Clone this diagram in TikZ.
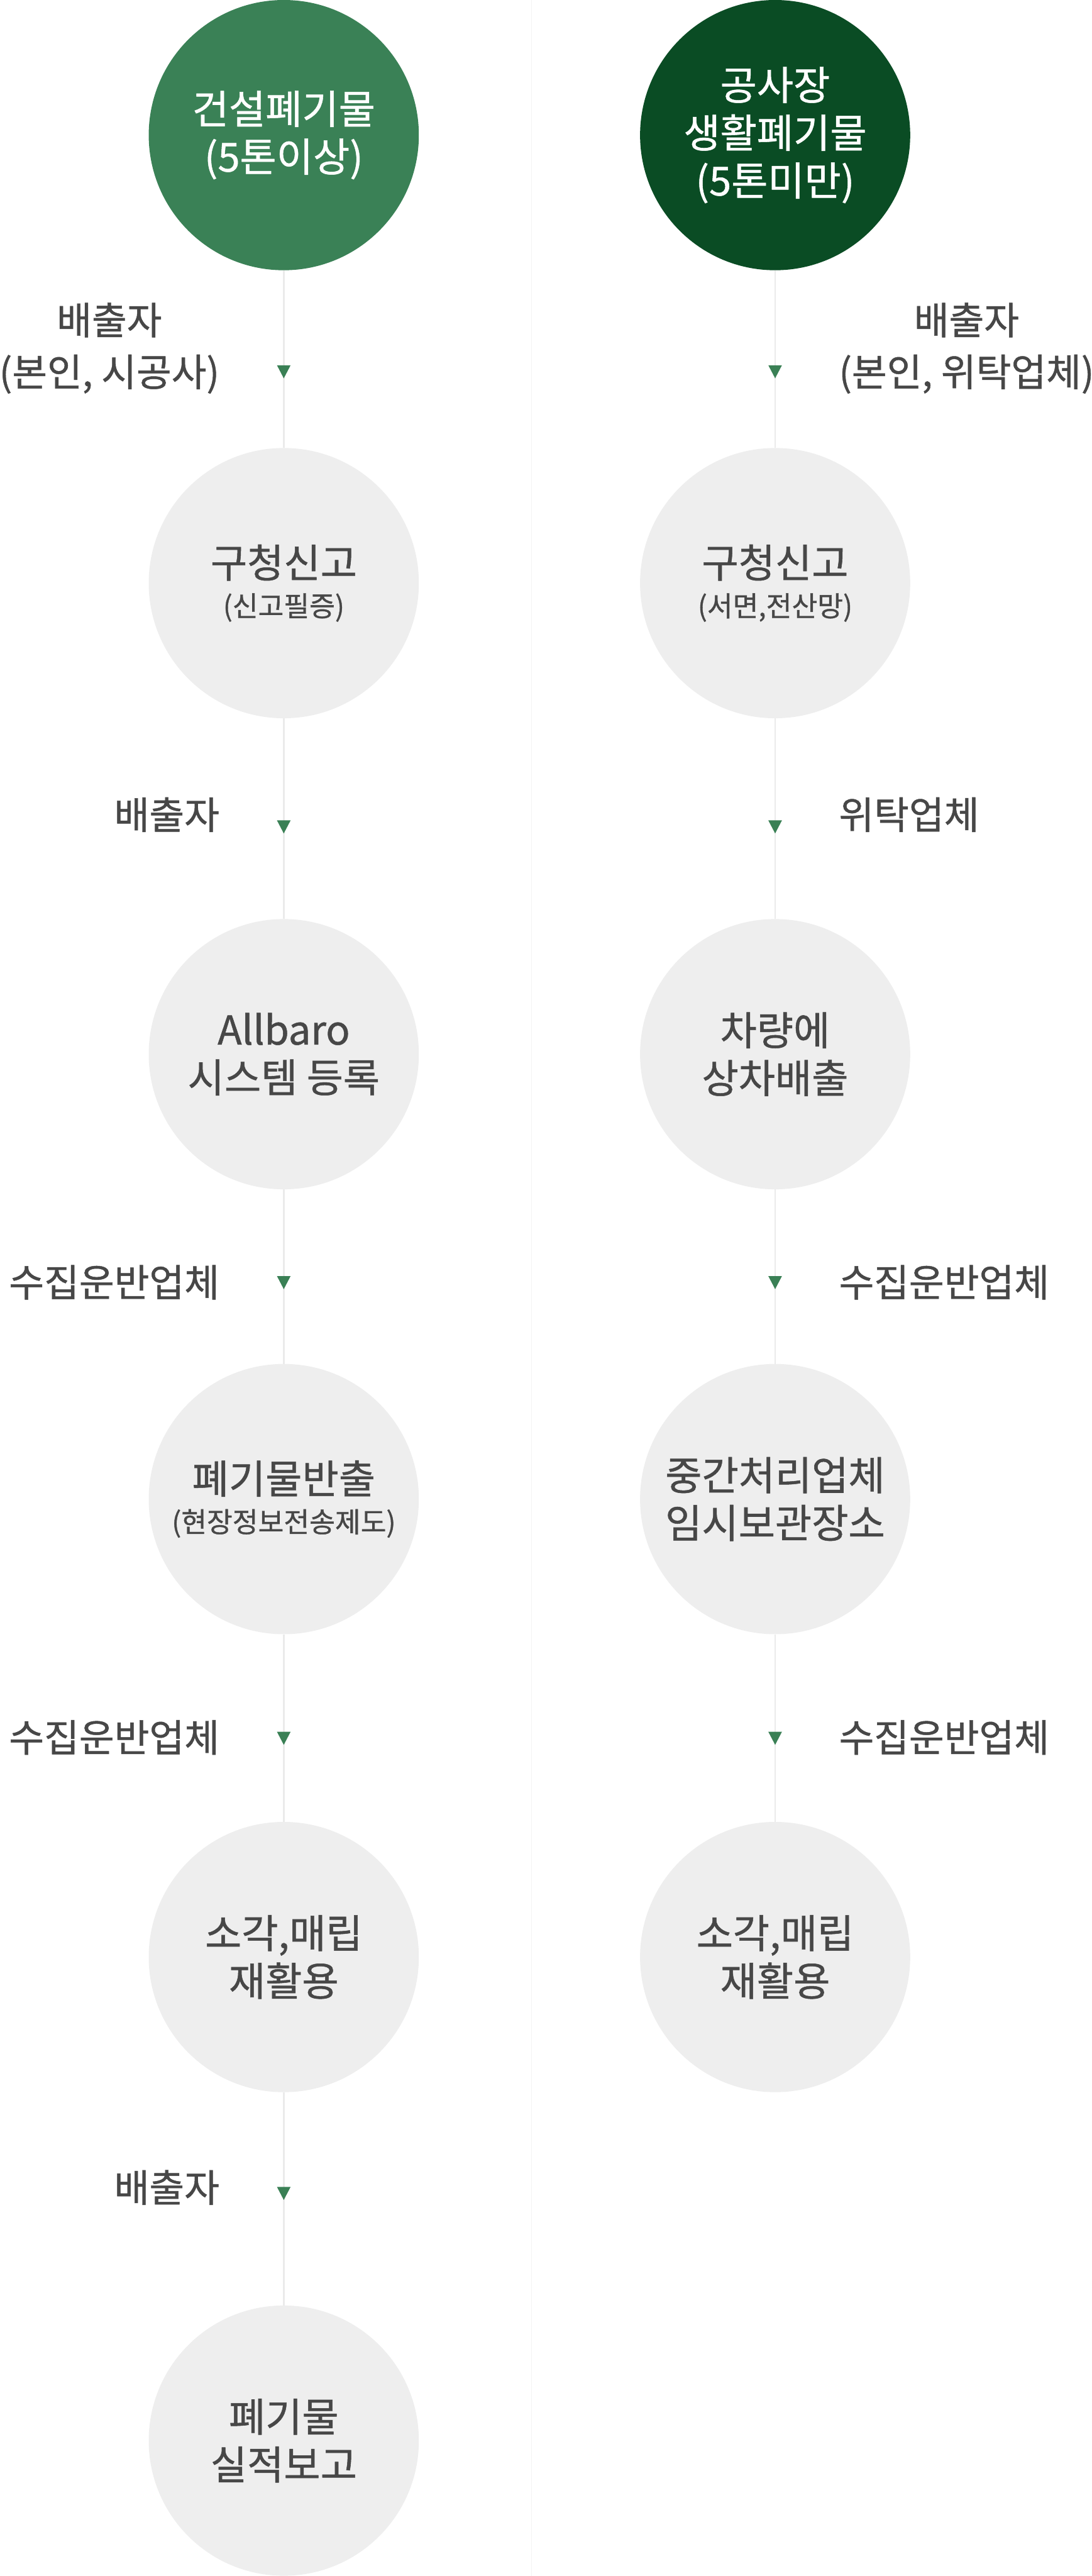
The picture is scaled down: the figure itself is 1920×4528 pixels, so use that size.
\documentclass[tikz,border=0pt]{standalone}
\usepackage{fontspec}
\setmainfont[FakeBold=0.8]{Noto Sans CJK KR}
\definecolor{gA}{HTML}{3A8156}
\definecolor{gB}{HTML}{0A4C24}
\definecolor{lgrey}{HTML}{EEEEEE}
\definecolor{txt}{HTML}{474747}
\definecolor{conncol}{HTML}{EBEBEB}
\definecolor{tricol}{HTML}{3A8055}
\definecolor{divcol}{HTML}{F4F4F4}
\newcommand\kwsub[1]{{\fontsize{49}{49}\selectfont #1}}
\begin{document}
\begin{tikzpicture}[x=1pt,y=-1pt,
  circ/.style={circle, minimum size=475pt, inner sep=0pt, align=center,
    font=\fontsize{70}{84}\selectfont},
  greycirc/.style={circ, fill=lgrey, text=txt},
  greenA/.style={circ, fill=gA, text=white},
  greenB/.style={circ, fill=gB, text=white},
  lbl/.style={font=\fontsize{67}{91}\selectfont, text=txt, align=center, inner sep=0pt},
  lblL/.style={lbl, anchor=east},
  lblR/.style={lbl, anchor=west},
  conn/.style={draw=conncol, line width=3pt},
  tri/.style={fill=tricol}
]
\useasboundingbox (0,0) rectangle (1920,4528);
\fill[white] (0,0) rectangle (1920,4528);
\draw[divcol, line width=1.5pt] (935,0) -- (935,4528);

% left column
\node[greenA] (L1) at (499,237.5) {건설폐기물\\(5톤이상)};
\node[greycirc] (L2) at (499,1025) {구청신고\\[-16pt]\kwsub{(신고필증)}};
\node[greycirc] (L3) at (499,1853) {Allbaro\\시스템 등록};
\node[greycirc] (L4) at (499,2635) {폐기물반출\\[-16pt]\kwsub{(현장정보전송제도)}};
\node[greycirc] (L5) at (499,3440) {소각,매립\\재활용};
\node[greycirc] (L6) at (499,4290) {폐기물\\실적보고};

% right column
\node[greenB] (R1) at (1363,237.5) {공사장\\생활폐기물\\(5톤미만)};
\node[greycirc] (R2) at (1363,1025) {구청신고\\[-16pt]\kwsub{(서면,전산망)}};
\node[greycirc] (R3) at (1363,1853) {차량에\\상차배출};
\node[greycirc] (R4) at (1363,2635) {중간처리업체\\임시보관장소};
\node[greycirc] (R5) at (1363,3440) {소각,매립\\재활용};

% connectors
\draw[conn] (L1) -- (L2);
\draw[conn] (L2) -- (L3);
\draw[conn] (L3) -- (L4);
\draw[conn] (L4) -- (L5);
\draw[conn] (L5) -- (L6);
\draw[conn] (R1) -- (R2);
\draw[conn] (R2) -- (R3);
\draw[conn] (R3) -- (R4);
\draw[conn] (R4) -- (R5);

% arrow markers
\foreach \nm/\xx/\yy in {tL1/499/653.5, tL2/499/1453.5, tL3/499/2254.5, tL4/499/3055.5, tL5/499/3855.5,
                         tR1/1363/653.5, tR2/1363/1453.5, tR3/1363/2254.5, tR4/1363/3055.5} {
  \coordinate (\nm) at (\xx,\yy);
  \fill[tri] (\nm) +(-12,-11.5) -- +(12,-11.5) -- +(0,11.5) -- cycle;
}

% labels
\node[lblL] (lab1L) at (386,612) {배출자\\(본인, 시공사)};
\node[lblL] (lab2L) at (386,1432) {배출자};
\node[lblL] (lab3L) at (386,2254) {수집운반업체};
\node[lblL] (lab4L) at (386,3054) {수집운반업체};
\node[lblL] (lab5L) at (386,3845) {배출자};
\node[lblR] (lab1R) at (1475,612) {배출자\\(본인, 위탁업체)};
\node[lblR] (lab2R) at (1475,1432) {위탁업체};
\node[lblR] (lab3R) at (1475,2254) {수집운반업체};
\node[lblR] (lab4R) at (1475,3054) {수집운반업체};
\end{tikzpicture}
\end{document}
